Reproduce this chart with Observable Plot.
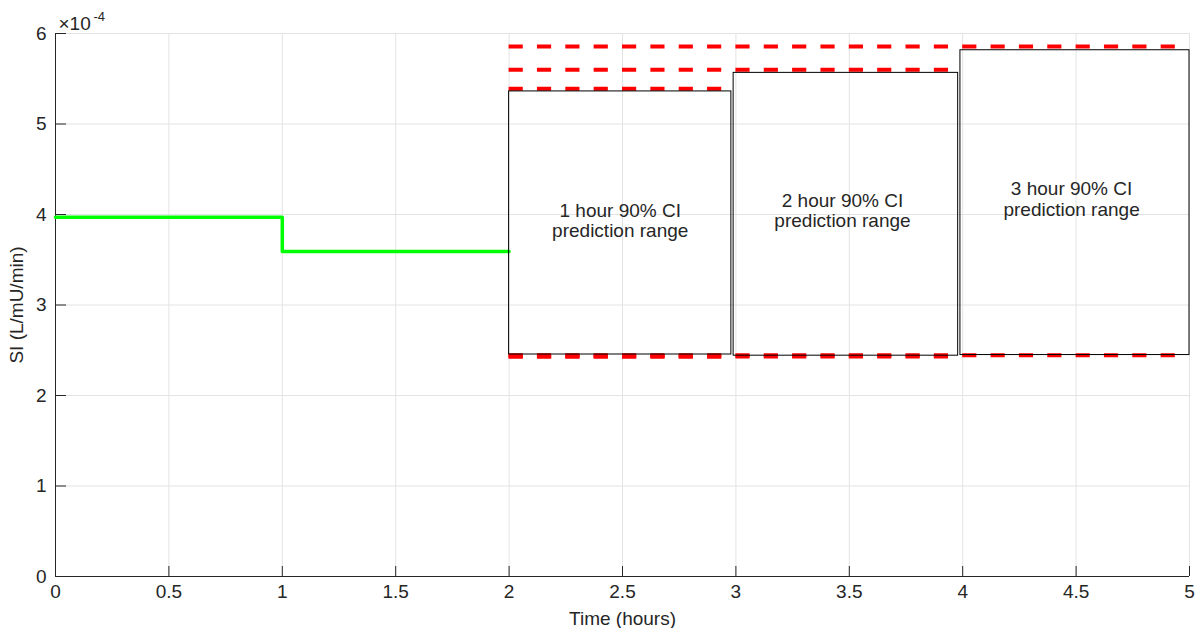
<!DOCTYPE html>
<html><head><meta charset="utf-8">
<script src="https://cdn.jsdelivr.net/npm/d3@7"></script>
<script src="https://cdn.jsdelivr.net/npm/@observablehq/plot@0.6"></script>
<style>body{margin:0;background:#fff;}</style>
</head><body><div id="chart"></div>
<script>
// Identified SI step profile (L/mU/min)
const stepHours = [0, 1, 2];
const stepSI = [3.97e-4, 3.59e-4, 3.59e-4];

// Forecast boxes (90% CI prediction ranges)
const boxLabels = ["1 hour 90% CI\nprediction range", "2 hour 90% CI\nprediction range", "3 hour 90% CI\nprediction range"];
const boxStart = [2, 2.99, 3.99];
const boxEnd = [2.98, 3.98, 5];
const boxLow = [2.453e-4, 2.44e-4, 2.447e-4];
const boxHigh = [5.36e-4, 5.565e-4, 5.815e-4];
const labelHours = [2.49, 3.47, 4.48];
const labelSI = [3.93e-4, 4.04e-4, 4.17e-4];

// Red dashed CI bounds
const ciStart = [2, 2, 2];
const ciEnd = [3, 4, 5];
const ciUpper = [5.39e-4, 5.60e-4, 5.856e-4];
const ciLower = [2.43e-4, 2.43e-4, 2.445e-4];

// Ticks
const xTicks = [0, 0.5, 1, 1.5, 2, 2.5, 3, 3.5, 4, 4.5, 5];
const xTickLabels = ["0", "0.5", "1", "1.5", "2", "2.5", "3", "3.5", "4", "4.5", "5"];
const yTicks = [0, 1e-4, 2e-4, 3e-4, 4e-4, 5e-4, 6e-4];
const yTickLabels = ["0", "1", "2", "3", "4", "5", "6"];

const W = 1196, H = 628, mL = 55, mR = 7, mT = 33, mB = 52;
const innerW = W - mL - mR, innerH = H - mT - mB;
const ink = "#262626";
const font = "'Liberation Sans', Helvetica, Arial, sans-serif";
const fs = 19;

const step = stepHours.map((h, i) => ({x: h, y: stepSI[i]}));
const boxes = boxLabels.map((l, i) => ({label: l, x1: boxStart[i], x2: boxEnd[i], y1: boxLow[i], y2: boxHigh[i], tx: labelHours[i], ty: labelSI[i]}));
const ci = [];
ciUpper.forEach((v, i) => ci.push({y: v, x1: ciStart[i], x2: ciEnd[i]}));
ciLower.forEach((v, i) => ci.push({y: v, x1: ciStart[i], x2: ciEnd[i]}));

const chart = Plot.plot({
  width: W, height: H,
  marginLeft: mL, marginRight: mR, marginTop: mT, marginBottom: mB,
  style: {fontFamily: font, fontSize: fs + "px", color: ink, background: "#fff"},
  x: {domain: [0, 5]},
  y: {domain: [0, 6e-4]},
  marks: [
    Plot.gridX(xTicks, {stroke: "#e3e3e3", strokeOpacity: 1}),
    Plot.gridY(yTicks, {stroke: "#e3e3e3", strokeOpacity: 1}),
    Plot.axisX(xTicks, {tickSize: 0, tickPadding: 8, fontSize: fs, fill: ink,
      tickFormat: (d, i) => xTickLabels[i],
      label: "Time (hours)", labelAnchor: "center", labelOffset: 48, labelArrow: "none"}),
    Plot.axisY(yTicks, {tickSize: 0, tickPadding: 9, fontSize: fs, fill: ink,
      tickFormat: (d, i) => yTickLabels[i],
      label: "SI (L/mU/min)", labelAnchor: "center", labelOffset: 46, labelArrow: "none"}),
    Plot.tickX(xTicks, {x: d => d, insetTop: innerH - 10, stroke: ink}),
    Plot.tickY(yTicks, {y: d => d, insetRight: innerW - 11, stroke: ink}),
    Plot.ruleX([0], {stroke: ink}),
    Plot.ruleY([0], {stroke: ink}),
    Plot.line(step, {x: "x", y: "y", curve: "step-after", stroke: "#00ff00", strokeWidth: 3.5}),
    Plot.ruleY(ci, {y: "y", x1: "x1", x2: "x2", stroke: "#ff0000", strokeWidth: 4, strokeDasharray: "14.175,14.175"}),
    Plot.rect(boxes, {x1: "x1", x2: "x2", y1: "y1", y2: "y2", fill: "none", stroke: "#000", strokeWidth: 1}),
    Plot.text(boxes, {x: "tx", y: "ty", text: "label", lineHeight: 1.06, fontSize: fs, fill: ink}),
    Plot.text(["×10"], {frameAnchor: "top-left", dx: 3, dy: -4, textAnchor: "start", lineAnchor: "bottom", fontSize: fs, fill: ink}),
    Plot.text(["-4"], {frameAnchor: "top-left", dx: 38, dy: -13, textAnchor: "start", lineAnchor: "bottom", fontSize: 13, fill: ink})
  ]
});
document.getElementById("chart").appendChild(chart);
</script>
</body></html>
